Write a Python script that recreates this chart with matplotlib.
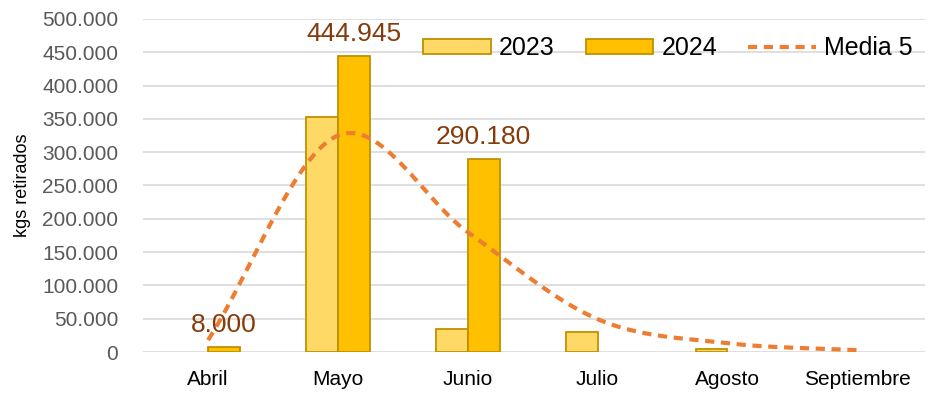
import numpy as np
import matplotlib
matplotlib.use("Agg")
import matplotlib.pyplot as plt
from matplotlib.ticker import FuncFormatter
from matplotlib.patches import Patch
from matplotlib.lines import Line2D

meses = ["Abril", "Mayo", "Junio", "Julio", "Agosto", "Septiembre"]
kg_2023 = [0, 353000, 34500, 30500, 4000, 0]
kg_2024 = [8000, 444945, 290180, 0, 0, 0]
media5 = [18000, 325000, 180000, 49500, 13500, 3000]
etiquetas_2024 = {0: "8.000", 1: "444.945", 2: "290.180"}

plt.rcParams["font.family"] = ["Liberation Sans", "DejaVu Sans"]

def catmull_rom(xs, ys, n=40):
    # smooth line like Excel's "smoothed line" option
    xs = np.asarray(xs, float)
    ys = np.asarray(ys, float)
    px = np.concatenate([[2 * xs[0] - xs[1]], xs, [2 * xs[-1] - xs[-2]]])
    py = np.concatenate([[2 * ys[0] - ys[1]], ys, [2 * ys[-1] - ys[-2]]])
    out_x, out_y = [], []
    t = np.linspace(0, 1, n)
    for i in range(1, len(px) - 2):
        for p, out in ((px, out_x), (py, out_y)):
            p0, p1, p2, p3 = p[i - 1], p[i], p[i + 1], p[i + 2]
            out.extend(0.5 * ((2 * p1) + (-p0 + p2) * t
                              + (2 * p0 - 5 * p1 + 4 * p2 - p3) * t ** 2
                              + (-p0 + 3 * p1 - 3 * p2 + p3) * t ** 3))
    return np.array(out_x), np.array(out_y)

fig = plt.figure(figsize=(9.36, 3.93), dpi=100)
ax = fig.add_axes([0.153, 0.104, 0.835, 0.848])

x = np.arange(len(meses))
w = 0.245
b1 = ax.bar(x - w / 2, kg_2023, w, color="#FFD966", edgecolor="#BF9000", linewidth=1.3, zorder=3)
b2 = ax.bar(x + w / 2, kg_2024, w, color="#FFC000", edgecolor="#BF9000", linewidth=1.3, zorder=3)
for b in list(b1) + list(b2):
    if b.get_height() == 0:
        b.set_edgecolor("none")

sx, sy = catmull_rom(x, media5)
ax.plot(sx, sy, color="#ED7D31", linestyle=(0, (2.2, 1.6)), linewidth=3, zorder=4)

for i, txt in etiquetas_2024.items():
    ax.annotate(txt, (x[i] + w / 2, kg_2024[i]), xytext=(0, 7), textcoords="offset points",
                ha="center", va="bottom", fontsize=19, color="#843C0C", zorder=6)

ax.set_xlim(-0.5, 5.52)
ax.set_ylim(0, 500000)
ax.set_yticks(np.arange(0, 500001, 50000))
ax.yaxis.set_major_formatter(FuncFormatter(lambda v, p: f"{int(v):,}".replace(",", ".")))
ax.set_xticks(x)
ax.set_xticklabels(meses, fontsize=15, color="black")
ax.tick_params(axis="y", labelsize=15, labelcolor="#595959", length=0, pad=18)
ax.tick_params(axis="x", length=0, pad=13)
ax.grid(axis="y", color="#D9D9D9", linewidth=1.2, zorder=0)
for s in ax.spines.values():
    s.set_visible(False)
ax.set_ylabel("kgs retirados", fontsize=13, labelpad=8)

handles = [Patch(facecolor="#FFD966", edgecolor="#BF9000", linewidth=1.3),
           Patch(facecolor="#FFC000", edgecolor="#BF9000", linewidth=1.3),
           Line2D([], [], color="#ED7D31", linestyle=(0, (2.2, 1.6)), linewidth=3)]
leg = ax.legend(handles, ["2023", "2024", "Media 5"], loc="upper right", bbox_to_anchor=(1.013, 1.015),
                ncol=3, frameon=False, fontsize=18, handlelength=2.7, handleheight=0.55,
                columnspacing=1.25, handletextpad=0.32)
leg.set_zorder(5)

fig.savefig("out.png", dpi=100)
